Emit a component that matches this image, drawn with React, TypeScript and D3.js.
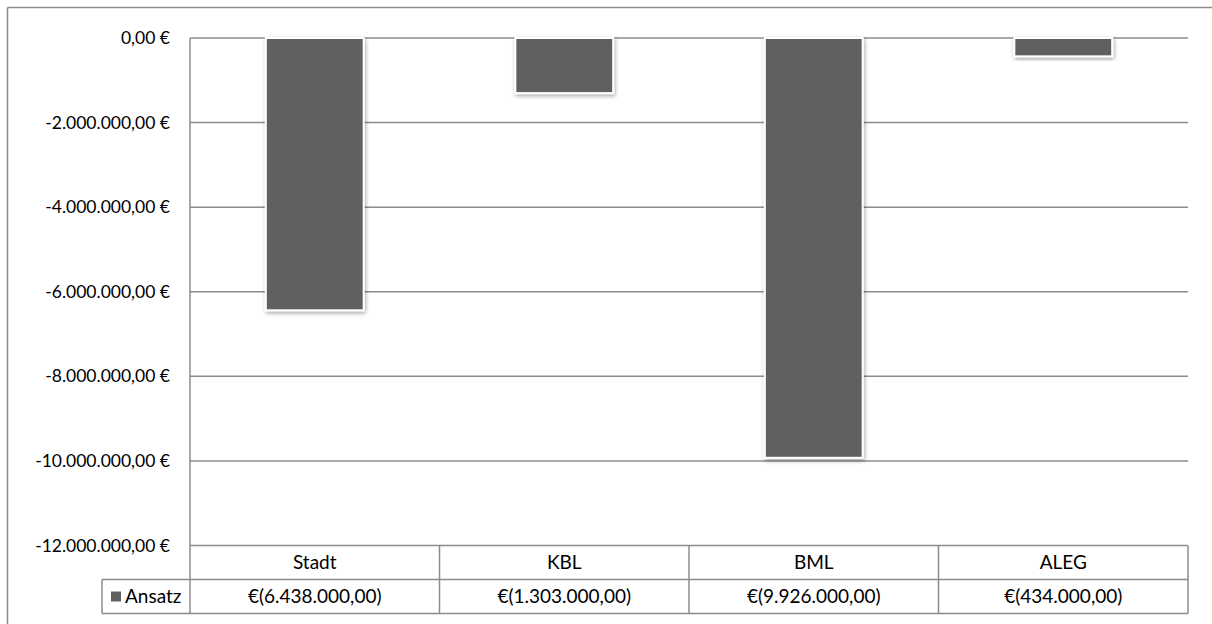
import React from 'react';
import * as d3 from 'd3';

const categories = ['Stadt', 'KBL', 'BML', 'ALEG'];
const ansatz = [-6438000, -1303000, -9926000, -434000];
const yTicks = [0, -2000000, -4000000, -6000000, -8000000, -10000000, -12000000];
const seriesName = 'Ansatz';

const W = 1212;
const H = 624;
const plot = { left: 190, right: 1188, top: 38, bottom: 545.5 };
const rowH = 34;
const legendLeft = 102;
const gridColor = '#8c8c8c';
const barColor = '#606060';
const font = 'Lato, "Liberation Sans", sans-serif';
const fs = 19;

const de = d3.formatLocale({
  decimal: ',',
  thousands: '.',
  grouping: [3],
  currency: ['', ' €'],
  minus: '-'
});
const num = de.format(',.2f');

export default function App() {
  const x = d3.scaleBand<string>()
    .domain(categories)
    .range([plot.left, plot.right])
    .paddingInner(0)
    .paddingOuter(0);

  const y = d3.scaleLinear()
    .domain([0, -12000000])
    .range([plot.top, plot.bottom]);

  const bw = x.bandwidth() / 2.55;
  const row1 = plot.bottom;
  const row2 = plot.bottom + rowH;
  const row3 = plot.bottom + rowH * 2;

  return (
    <svg
      width={W}
      height={H}
      style={{ position: 'absolute', left: 0, top: 0, background: '#fff' }}
      fontFamily={font}
    >
      <defs>
        <filter id="shadow" x="-20%" y="-20%" width="140%" height="140%">
          <feDropShadow dx="1" dy="2" stdDeviation="2" floodColor="#000" floodOpacity="0.35" />
        </filter>
      </defs>

      {/* outer frame (only top and left visible) */}
      <line x1={7.5} x2={W} y1={7.5} y2={7.5} stroke={gridColor} strokeWidth={1.5} />
      <line x1={7.5} x2={7.5} y1={7.5} y2={H} stroke={gridColor} strokeWidth={1.5} />

      {/* gridlines */}
      {yTicks.map(t => (
        <line key={t} x1={plot.left} x2={plot.right} y1={y(t)} y2={y(t)}
          stroke={gridColor} strokeWidth={1.5} />
      ))}

      {/* y tick labels */}
      {yTicks.map(t => (
        <text key={'l' + t} x={170} y={y(t)} dy="0.35em" textAnchor="end"
          fontSize={17.5} fill="#000">
          {num(t) + ' €'}
        </text>
      ))}

      {/* bars */}
      {ansatz.map((v, i) => {
        const cx = x(categories[i])! + x.bandwidth() / 2;
        return (
          <rect key={categories[i]} x={cx - bw / 2} y={y(0)} width={bw} height={y(v) - y(0)}
            fill={barColor} stroke="#fff" strokeWidth={2} filter="url(#shadow)" />
        );
      })}

      {/* data table */}
      <line x1={plot.left} x2={plot.left} y1={plot.top} y2={row3} stroke={gridColor} strokeWidth={1.5} />
      <line x1={plot.left} x2={plot.right} y1={row2} y2={row2} stroke={gridColor} strokeWidth={1.5} />
      <line x1={legendLeft} x2={plot.right} y1={row3} y2={row3} stroke={gridColor} strokeWidth={1.5} />
      <line x1={legendLeft} x2={plot.left} y1={row2} y2={row2} stroke={gridColor} strokeWidth={1.5} />
      <line x1={legendLeft} x2={legendLeft} y1={row2} y2={row3} stroke={gridColor} strokeWidth={1.5} />
      {categories.map(c => (
        <line key={'v' + c} x1={x(c)! + x.bandwidth()} x2={x(c)! + x.bandwidth()} y1={row1} y2={row3}
          stroke={gridColor} strokeWidth={1.5} />
      ))}
      {categories.map(c => (
        <text key={'c' + c} x={x(c)! + x.bandwidth() / 2} y={(row1 + row2) / 2} dy="0.35em"
          textAnchor="middle" fontSize={fs} fill="#000">{c}</text>
      ))}
      {ansatz.map((v, i) => (
        <text key={'t' + i} x={x(categories[i])! + x.bandwidth() / 2} y={(row2 + row3) / 2} dy="0.35em"
          textAnchor="middle" fontSize={fs} fill="#000">{'€(' + num(Math.abs(v)) + ')'}</text>
      ))}
      <rect x={111} y={(row2 + row3) / 2 - 5} width={10} height={10} fill={barColor} />
      <text x={125} y={(row2 + row3) / 2} dy="0.35em" fontSize={fs} fill="#000">{seriesName}</text>
    </svg>
  );
}
